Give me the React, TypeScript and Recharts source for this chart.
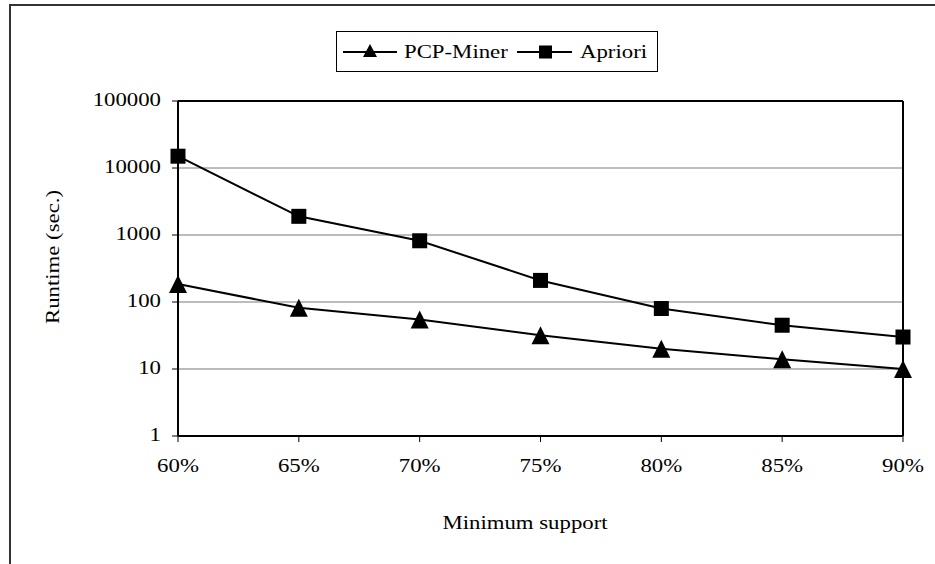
import { LineChart, Line, XAxis, YAxis, CartesianGrid, ReferenceLine } from "recharts";

const supports = ["60%", "65%", "70%", "75%", "80%", "85%", "90%"];
const pcpMiner = [185, 82, 55, 32, 20, 14, 10];
const apriori = [15000, 1900, 820, 210, 80, 45, 30];
const yTicks = [1, 10, 100, 1000, 10000, 100000];

const FONT = '"Liberation Serif", "DejaVu Serif", serif';
const SX = 1.2;

const data = supports.map((s, i) => ({ support: s, pcp: pcpMiner[i], apriori: apriori[i] }));

function Wide({ x, y, anchor = "start", rotate = 0, children }: any) {
  return (
    <text
      transform={`translate(${x} ${y}) rotate(${rotate}) scale(${SX} 1)`}
      x={0}
      y={0}
      textAnchor={anchor}
      fontFamily={FONT}
      fontSize={19}
      fill="#000"
    >
      {children}
    </text>
  );
}

function XTick({ x, payload }: any) {
  return <Wide x={x} y={472} anchor="middle">{payload.value}</Wide>;
}

function YTick({ y, payload }: any) {
  return <Wide x={161} y={y + 5} anchor="end">{payload.value}</Wide>;
}

function SquareDot({ cx, cy }: any) {
  if (cx == null || cy == null) return null;
  return <rect x={cx - 7.5} y={cy - 7.5} width={15} height={15} fill="#000" />;
}

function TriangleDot({ cx, cy }: any) {
  if (cx == null || cy == null) return null;
  return <polygon points={`${cx},${cy - 9} ${cx + 9},${cy + 9} ${cx - 9},${cy + 9}`} fill="#000" />;
}

function LegendBox() {
  return (
    <svg width={322} height={41} style={{ display: "block" }}>
      <rect x={0.5} y={0.5} width={321} height={40} fill="#fff" stroke="#000" strokeWidth={1} />
      <line x1={7} y1={21} x2={61} y2={21} stroke="#000" strokeWidth={2} />
      <polygon points="34,13 41,26 27,26" fill="#000" />
      <Wide x={68} y={27}>PCP-Miner</Wide>
      <line x1={181} y1={21} x2={236} y2={21} stroke="#000" strokeWidth={2} />
      <rect x={203} y={14.5} width={13} height={13} fill="#000" />
      <Wide x={244} y={27}>Apriori</Wide>
    </svg>
  );
}

export default function App() {
  return (
    <div style={{ position: "absolute", left: 0, top: 0, width: 935, height: 564, overflow: "hidden", background: "#fff", fontFamily: FONT }}>
      <div
        style={{
          position: "absolute",
          left: 9,
          top: 4,
          width: 960,
          height: 600,
          border: "2px solid #333",
          boxSizing: "border-box",
        }}
      />
      <div style={{ position: "absolute", left: 0, top: 0 }}>
        <LineChart width={935} height={564} data={data} margin={{ top: 101, right: 32, bottom: 68, left: 108 }}>
          <CartesianGrid horizontal vertical={false} stroke="#a6a6a6" strokeWidth={1.5} />
          <XAxis
            dataKey="support"
            padding={{ left: 0, right: 0 }}
            stroke="#000"
            strokeWidth={2}
            tickSize={6}
            tickLine={{ stroke: "#000", strokeWidth: 1 }}
            tick={<XTick />}
            height={60}
            interval={0}
            label={{ content: () => <Wide x={525} y={529} anchor="middle">Minimum support</Wide> }}
          />
          <YAxis
            scale="log"
            domain={[1, 100000]}
            ticks={yTicks}
            allowDataOverflow
            stroke="#000"
            strokeWidth={2}
            tickSize={6}
            tickLine={{ stroke: "#000", strokeWidth: 1 }}
            tick={<YTick />}
            width={70}
            interval={0}
            label={{ content: () => <Wide x={59} y={257} anchor="middle" rotate={-90}>Runtime (sec.)</Wide> }}
          />
          <ReferenceLine y={100000} stroke="#000" strokeWidth={2} ifOverflow="visible" />
          <ReferenceLine x="90%" stroke="#000" strokeWidth={2} ifOverflow="visible" />
          <Line
            dataKey="pcp"
            name="PCP-Miner"
            stroke="#000"
            strokeWidth={2}
            dot={<TriangleDot />}
            activeDot={false}
            isAnimationActive={false}
          />
          <Line
            dataKey="apriori"
            name="Apriori"
            stroke="#000"
            strokeWidth={2}
            dot={<SquareDot />}
            activeDot={false}
            isAnimationActive={false}
          />
        </LineChart>
      </div>
      <div style={{ position: "absolute", left: 336, top: 31 }}>
        <LegendBox />
      </div>
    </div>
  );
}
